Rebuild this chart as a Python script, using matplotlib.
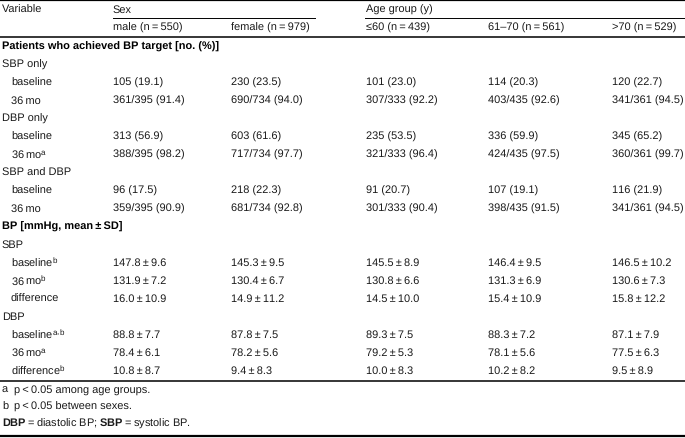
import matplotlib
matplotlib.use("Agg")
import matplotlib.pyplot as plt

plt.rcParams['font.family'] = ['Liberation Sans', 'DejaVu Sans']
plt.rcParams['mathtext.fontset'] = 'custom'
plt.rcParams['mathtext.rm'] = 'Liberation Sans'
plt.rcParams['mathtext.bf'] = 'Liberation Sans:bold'
plt.rcParams['mathtext.it'] = 'Liberation Sans:italic'
plt.rcParams['text.hinting'] = 'no_hinting'
plt.rcParams['text.hinting_factor'] = 1

T = '\u2009'
PM = T + '±' + T

group_headers = ['Sex', 'Age group (y)']
col_headers = ['male (n' + T + '=' + T + '550)', 'female (n' + T + '=' + T + '979)',
               '≤60 (n' + T + '=' + T + '439)', '61–70 (n' + T + '=' + T + '561)',
               '>70 (n' + T + '=' + T + '529)']

# (label, kind, values) kind: 'section' bold, 'group', 'item'
rows = [
    ('Patients who achieved BP target [no. (%)]', 'section', None),
    ('SBP only', 'group', None),
    ('baseline', 'item', ['105 (19.1)', '230 (23.5)', '101 (23.0)', '114 (20.3)', '120 (22.7)']),
    ('36' + T + 'mo', 'item', ['361/395 (91.4)', '690/734 (94.0)', '307/333 (92.2)', '403/435 (92.6)', '341/361 (94.5)']),
    ('DBP only', 'group', None),
    ('baseline', 'item', ['313 (56.9)', '603 (61.6)', '235 (53.5)', '336 (59.9)', '345 (65.2)']),
    ('36' + T + 'mo$^{\\mathregular{a}}$', 'item', ['388/395 (98.2)', '717/734 (97.7)', '321/333 (96.4)', '424/435 (97.5)', '360/361 (99.7)']),
    ('SBP and DBP', 'group', None),
    ('baseline', 'item', ['96 (17.5)', '218 (22.3)', '91 (20.7)', '107 (19.1)', '116 (21.9)']),
    ('36' + T + 'mo', 'item', ['359/395 (90.9)', '681/734 (92.8)', '301/333 (90.4)', '398/435 (91.5)', '341/361 (94.5)']),
    ('BP [mmHg, mean' + PM + 'SD]', 'section', None),
    ('SBP', 'group', None),
    ('baseline$^{\\mathregular{b}}$', 'item', ['147.8' + PM + '9.6', '145.3' + PM + '9.5', '145.5' + PM + '8.9', '146.4' + PM + '9.5', '146.5' + PM + '10.2']),
    ('36' + T + 'mo$^{\\mathregular{b}}$', 'item', ['131.9' + PM + '7.2', '130.4' + PM + '6.7', '130.8' + PM + '6.6', '131.3' + PM + '6.9', '130.6' + PM + '7.3']),
    ('difference', 'item', ['16.0' + PM + '10.9', '14.9' + PM + '11.2', '14.5' + PM + '10.0', '15.4' + PM + '10.9', '15.8' + PM + '12.2']),
    ('DBP', 'group', None),
    ('baseline$^{\\mathregular{a,b}}$', 'item', ['88.8' + PM + '7.7', '87.8' + PM + '7.5', '89.3' + PM + '7.5', '88.3' + PM + '7.2', '87.1' + PM + '7.9']),
    ('36' + T + 'mo$^{\\mathregular{a}}$', 'item', ['78.4' + PM + '6.1', '78.2' + PM + '5.6', '79.2' + PM + '5.3', '78.1' + PM + '5.6', '77.5' + PM + '6.3']),
    ('difference$^{\\mathregular{b}}$', 'item', ['10.8' + PM + '8.7', '9.4' + PM + '8.3', '10.0' + PM + '8.3', '10.2' + PM + '8.2', '9.5' + PM + '8.9']),
]

footnote_marks = ['a', 'b']
footnote_texts = ['p' + T + '<' + T + '0.05 among age groups.', 'p' + T + '<' + T + '0.05 between sexes.']
abbrev = '$\\mathbf{DBP}$' + T + '=' + T + 'diastolic BP; $\\mathbf{SBP}$' + T + '=' + T + 'systolic BP.'

W, H = 685, 439
fig = plt.figure(figsize=(W / 100, H / 100), dpi=100)
ax = fig.add_axes([0, 0, 1, 1])
ax.set_xlim(0, W)
ax.set_ylim(H, 0)
ax.axis('off')

FS = 7.9
col_x = [113, 231, 366, 488, 612]
color = '#1a1a1a'

# header
ax.text(2, 10, 'Variable', fontsize=FS, va='center', ha='left', color=color)
ax.text(col_x[0], 10, group_headers[0], fontsize=FS, va='center', ha='left', color=color)
ax.text(col_x[2], 10, group_headers[1], fontsize=FS, va='center', ha='left', color=color)
for x, h in zip(col_x, col_headers):
    ax.text(x, 28, h, fontsize=FS, va='center', ha='left', color=color)

# lines
ax.plot([0, W], [1, 1], color='black', lw=1.6, solid_capstyle='butt')
ax.plot([113, 315], [19, 19], color='black', lw=0.7)
ax.plot([365, W], [19, 19], color='black', lw=0.7)
ax.plot([0, W], [38, 38], color='black', lw=1.1)
ax.plot([0, W], [381.5, 381.5], color='black', lw=1.1)
ax.plot([0, W], [437.5, 437.5], color='black', lw=1.6)

y0, dy = 47, 18
for i, (label, kind, vals) in enumerate(rows):
    y = y0 + dy * i
    if kind == 'section':
        ax.text(2, y, label, fontsize=FS, fontweight='bold', va='center', ha='left', color='black')
    elif kind == 'group':
        ax.text(2, y, label, fontsize=FS, va='center', ha='left', color=color)
    else:
        ax.text(11, y, label, fontsize=FS, va='center', ha='left', color=color)
        for x, v in zip(col_x, vals):
            ax.text(x, y, v, fontsize=FS, va='center', ha='left', color=color)

for j, (m, t) in enumerate(zip(footnote_marks, footnote_texts)):
    y = 390 + 17 * j
    ax.text(2, y, m, fontsize=FS, va='center', ha='left', color=color)
    ax.text(14, y, t, fontsize=FS, va='center', ha='left', color=color)
ax.text(2, 424, abbrev, fontsize=FS, va='center', ha='left', color=color)

fig.savefig('out.png', dpi=100)
